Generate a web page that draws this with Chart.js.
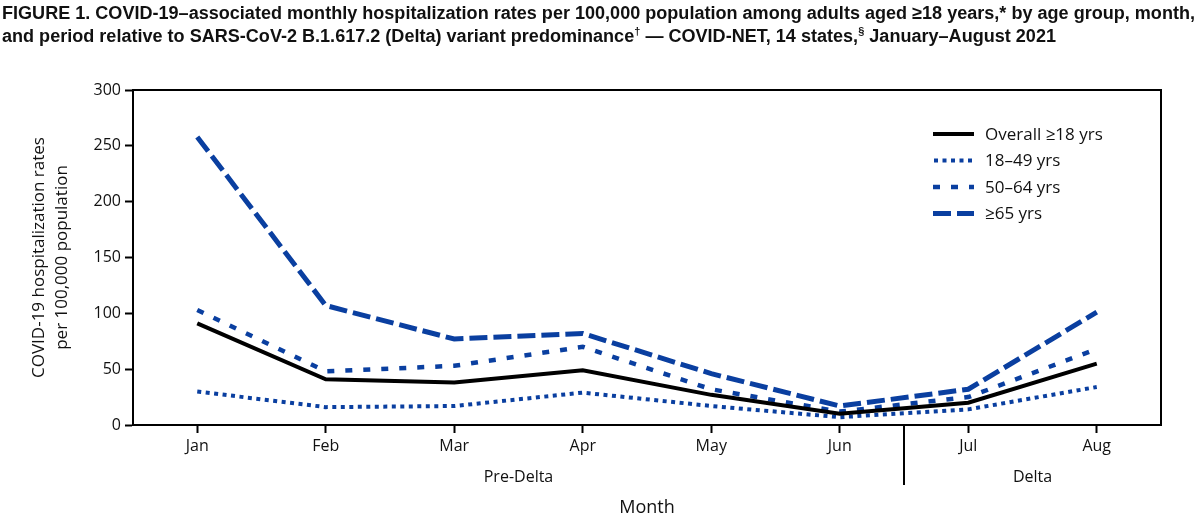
<!DOCTYPE html>
<html>
<head>
<meta charset="utf-8">
<script src="https://cdn.jsdelivr.net/npm/chart.js@4.4.1/dist/chart.umd.min.js"></script>
<style>
  html, body { margin: 0; padding: 0; background: #fff; }
  #wrap { position: relative; width: 1200px; height: 522px; }
  #title {
    position: absolute; left: 2px; top: 2px;
    font-family: "Liberation Sans", sans-serif;
    font-weight: bold; font-size: 18px; line-height: 23px; color: #111;
    white-space: nowrap; transform-origin: 0 0;
  }
  #title sup { font-size: 11px; line-height: 0; vertical-align: 7px; }
  canvas { position: absolute; left: 0; top: 0; }
</style>
</head>
<body>
<div id="wrap">
  <canvas id="chart" width="1200" height="522"></canvas>
  <div id="title"><span id="t1">FIGURE 1. COVID-19–associated monthly hospitalization rates per 100,000 population among adults aged ≥18 years,* by age group, month,</span><br>and period relative to SARS-CoV-2 B.1.617.2 (Delta) variant predominance<sup>†</sup> — COVID-NET, 14 states,<sup>§</sup> January–August 2021</div>
</div>
<script>
// ข้อมูลของกราฟ
var months = ['Jan', 'Feb', 'Mar', 'Apr', 'May', 'Jun', 'Jul', 'Aug'];
var overall = [91, 41, 38, 49, 27, 10, 20, 55];
var age18to49 = [30, 16, 17, 29, 17, 7, 14, 34];
var age50to64 = [103, 48, 53, 70, 32, 12, 25, 68];
var age65plus = [258, 107, 77, 82, 46, 17, 32, 101];
var yTicks = [0, 50, 100, 150, 200, 250, 300];

// ช่วงเวลา (ก่อน Delta / Delta)
var periods = [
    { label: 'Pre-Delta', from: 0, to: 5 },
    { label: 'Delta', from: 6, to: 7 }
];

var blue = '#0a3fa0';
var font = '"Open Sans", "DejaVu Sans", sans-serif';

// บีบหัวเรื่องให้พอดีความกว้าง (ฟอนต์แบบแคบไม่มีในเครื่อง)
var titleEl = document.getElementById('title');
var line1 = document.getElementById('t1').getBoundingClientRect().width;
titleEl.style.transform = 'scaleX(' + (1193 / line1) + ')';

// ปลั๊กอินวาดกรอบ เส้นแบ่งช่วง และคำอธิบาย
var extrasPlugin = {
    id: 'extras',
    afterDraw: function(chart) {
        var ctx = chart.ctx;
        var area = chart.chartArea;
        var x = chart.scales.x;
        ctx.save();

        // กรอบด้านบนและขวา
        ctx.strokeStyle = '#000';
        ctx.lineWidth = 2;
        ctx.beginPath();
        ctx.moveTo(area.left, area.top);
        ctx.lineTo(area.right, area.top);
        ctx.lineTo(area.right, area.bottom);
        ctx.stroke();

        // เส้นแบ่งระหว่าง Jun กับ Jul
        var divX = x.getPixelForValue(5.5);
        ctx.beginPath();
        ctx.moveTo(divX, area.bottom);
        ctx.lineTo(divX, area.bottom + 60);
        ctx.stroke();

        // ชื่อช่วงเวลา
        ctx.fillStyle = '#111';
        ctx.font = '16px ' + font;
        ctx.textAlign = 'center';
        ctx.textBaseline = 'middle';
        periods.forEach(function(p) {
            var cx = (x.getPixelForValue(p.from) + x.getPixelForValue(p.to)) / 2;
            ctx.fillText(p.label, cx, area.bottom + 52);
        });

        // คำอธิบายเส้น
        var lx = area.right - 228;
        var ly = area.top + 44;
        chart.data.datasets.forEach(function(ds, i) {
            var y = ly + i * 26.5;
            ctx.strokeStyle = ds.borderColor;
            ctx.lineWidth = ds.borderWidth;
            ctx.setLineDash(ds.borderDash || []);
            ctx.lineDashOffset = ds.legendDashOffset || 0;
            ctx.beginPath();
            ctx.moveTo(lx, y);
            ctx.lineTo(lx + 41, y);
            ctx.stroke();
            ctx.setLineDash([]);
            ctx.fillStyle = '#111';
            ctx.font = '17px ' + font;
            ctx.textAlign = 'left';
            ctx.fillText(ds.label, lx + 52, y + 1);
        });
        ctx.restore();
    }
};

var ctx = document.getElementById('chart').getContext('2d');
var chart = new Chart(ctx, {
    type: 'line',
    data: {
        labels: months,
        datasets: [
            { label: 'Overall ≥18 yrs', data: overall, borderColor: '#000', borderWidth: 4 },
            { label: '18–49 yrs', data: age18to49, borderColor: blue, borderWidth: 4, borderDash: [4, 4.5], legendDashOffset: -1 },
            { label: '50–64 yrs', data: age50to64, borderColor: blue, borderWidth: 4.5, borderDash: [7, 11] },
            { label: '≥65 yrs', data: age65plus, borderColor: blue, borderWidth: 5, borderDash: [18, 6] }
        ]
    },
    options: {
        responsive: false,
        animation: false,
        events: [],
        layout: { padding: { top: 90, right: 39, left: 0, bottom: 0 } },
        elements: {
            point: { radius: 0 },
            line: { tension: 0, borderCapStyle: 'butt', borderJoinStyle: 'miter', fill: false }
        },
        plugins: {
            legend: { display: false },
            tooltip: { enabled: false }
        },
        scales: {
            x: {
                offset: true,
                grid: { drawOnChartArea: false, drawTicks: true, tickLength: 8, tickWidth: 2, tickColor: '#000', offset: false },
                border: { display: true, color: '#000', width: 2 },
                ticks: { color: '#111', font: { family: font, size: 16 }, padding: 4, maxRotation: 0, autoSkip: false },
                title: { display: true, text: 'Month', color: '#111', font: { family: font, size: 18 }, padding: { top: 0, bottom: 3 } },
                afterFit: function(scale) { scale.height = 97; }
            },
            y: {
                min: 0,
                max: 300,
                afterBuildTicks: function(scale) {
                    scale.ticks = yTicks.map(function(v) { return { value: v }; });
                },
                grid: { drawOnChartArea: false, drawTicks: true, tickLength: 8, tickWidth: 2, tickColor: '#000' },
                border: { display: true, color: '#000', width: 2 },
                ticks: { color: '#111', font: { family: font, size: 16 }, padding: 4 },
                title: {
                    display: true,
                    text: ['COVID-19 hospitalization rates', 'per 100,000 population'],
                    color: '#111',
                    font: { family: font, size: 17, lineHeight: 1.35 },
                    padding: { top: 28, bottom: 0 }
                },
                afterFit: function(scale) { scale.width = 133; }
            }
        }
    },
    plugins: [extrasPlugin]
});
</script>
</body>
</html>
